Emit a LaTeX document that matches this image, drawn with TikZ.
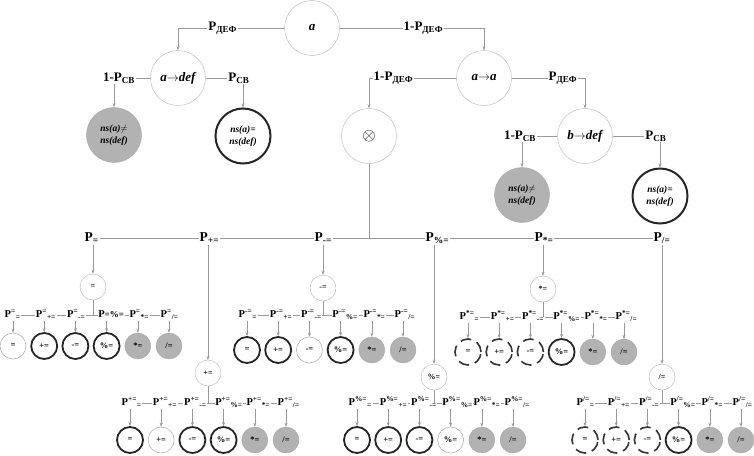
\documentclass[tikz,border=0pt]{standalone}
\usepackage{fontspec}
\setmainfont{Liberation Serif}
\usetikzlibrary{arrows.meta}

\begin{document}
\begin{tikzpicture}[
    x=1pt, y=-1pt,
    ln/.style={draw=gray!80, line width=0.6pt},
    ar/.style={ln, -{Stealth[length=4pt, width=3pt]}},
    big/.style={draw=gray!60, circle, minimum size=55pt, inner sep=0, align=center, font=\fontsize{13}{13}\selectfont\bfseries\itshape},
    bigyes/.style={big, draw=black!85, line width=2pt, font=\fontsize{9.5}{11.5}\selectfont\bfseries\itshape},
    bigno/.style={big, draw=gray!70, fill=gray!60, font=\fontsize{9.5}{11.5}\selectfont\bfseries\itshape},
    mid/.style={draw=gray!60, circle, minimum size=26pt, inner sep=0, font=\fontsize{8}{8}\selectfont\bfseries},
    lf/.style={circle, minimum size=26pt, inner sep=0, font=\fontsize{8.5}{8.5}\selectfont\bfseries},
    lthin/.style={lf, draw=gray!60, line width=0.6pt},
    lthick/.style={lf, draw=black!85, line width=1.8pt},
    lgrey/.style={lf, draw=gray!70, fill=gray!60},
    ldash/.style={lf, draw=black!80, line width=1.6pt, dash pattern=on 11pt off 6pt},
    tlab/.style={font=\fontsize{13}{13}\selectfont\bfseries, inner sep=1pt},
    plab/.style={font=\fontsize{13.5}{13.5}\selectfont\bfseries, inner sep=0.5pt, text height=9pt, text depth=3pt, anchor=west},
    rlab/.style={font=\fontsize{10.5}{10.5}\selectfont\bfseries, inner sep=0.5pt, text height=7.5pt, text depth=2.5pt, anchor=west}
]
\useasboundingbox (0,0) rectangle (754,455);

% upper tree
\node[big] (a) at (312,28) {a};
\node[big] (adef) at (178,78) {a$\rightarrow$def};
\node[big] (aa) at (484,78) {a$\rightarrow$a};
\node[big, font=\fontsize{16}{16}\selectfont] (ot) at (369,136) {$\otimes$};
\node[big] (bdef) at (585,136) {b$\rightarrow$def};
\node[bigno] (no1) at (114,135) {ns(a)$\neq$\\ns(def)};
\node[bigyes] (yes1) at (243,136) {ns(a)=\\ns(def)};
\node[bigno] (no2) at (522,195) {ns(a)$\neq$\\ns(def)};
\node[bigyes] (yes2) at (660,196) {ns(a)=\\ns(def)};

\draw[ar] (a) -| node[tlab, pos=0.29, fill=white] (ld1) {P\textsubscript{ДЕФ}} (adef);
\draw[ar] (a) -| node[tlab, pos=0.29, fill=white] (lnd1) {1-P\textsubscript{ДЕФ}} (aa);
\draw[ar] (aa) -| node[tlab, pos=0.36, fill=white] (lnd2) {1-P\textsubscript{ДЕФ}} (ot);
\draw[ar] (aa) -| node[tlab, pos=0.35, fill=white] (ld2) {P\textsubscript{ДЕФ}} (bdef);

\node[tlab] (lnc1) at (119,78) {1-P\textsubscript{СВ}};
\node[tlab] (lc1) at (239,78) {P\textsubscript{СВ}};
\node[tlab] (lnc2) at (520,136) {1-P\textsubscript{СВ}};
\node[tlab] (lc2) at (656,136) {P\textsubscript{СВ}};
\draw[ln] (adef) -- (lnc1);
\draw[ln] (adef) -- (lc1);
\draw[ln] (bdef) -- (lnc2);
\draw[ln] (bdef) -- (lc2);
\draw[ar] (lnc1.south -| no1) -- (no1);
\draw[ar] (lc1.south -| yes1) -- (yes1);
\draw[ar] (lnc2.south -| no2) -- (no2);
\draw[ar] (lc2.south -| yes2) -- (yes2);

% operator level
\node[plab] (p1) at (84,238) {P\textsubscript{=}};
\node[plab] (p2) at (199,238) {P\textsubscript{+=}};
\node[plab] (p3) at (314,238) {P\textsubscript{-=}};
\node[plab] (p4) at (425,238) {P\textsubscript{\%=}};
\node[plab] (p5) at (534,238) {P\textsubscript{*=}};
\node[plab] (p6) at (653,238) {P\textsubscript{/=}};
\foreach \i/\j in {1/2,2/3,3/4,4/5,5/6}
  \draw[ln] (p\i) -- (p\j);
\draw[ln] (ot) -- (ot |- p3.center);

\node[mid] (m1) at (93,287) {=};
\node[mid] (m2) at (208,373) {+=};
\node[mid] (m3) at (323,288) {-=};
\node[mid] (m4) at (434,377) {\%=};
\node[mid] (m5) at (543,289) {*=};
\node[mid] (m6) at (662,377) {/=};
\foreach \i in {1,...,6}
  \draw[ar] (p\i.south -| m\i) -- (m\i);

% leaf rows
\foreach \i/\sb/\st in {1/=/lthin, 2/+=/lthick, 3/-=/lthick, 4/\%=/lthick, 5/*=/lgrey, 6/{/=}/lgrey} {
  \node[rlab] (ra\i) at ({13+(\i-1)*31.2-9},315)
    {\ifnum\i=4 P{\fontsize{9}{9}\selectfont=\%=}\else P\textsuperscript{=}\textsubscript{\sb}\fi};
  \node[\st] (fa\i) at ({13+(\i-1)*31.2},346) {\sb};
  \draw[ar] (ra\i.south -| fa\i) -- (fa\i);
}
\foreach \i/\sb/\st in {1/=/lthick, 2/+=/lthick, 3/-=/lthin, 4/\%=/lthick, 5/*=/lgrey, 6/{/=}/lgrey} {
  \node[rlab] (rb\i) at ({247+(\i-1)*31.2-9},315) {P\textsuperscript{-=}\textsubscript{\sb}};
  \node[\st] (fb\i) at ({247+(\i-1)*31.2},350) {\sb};
  \draw[ar] (rb\i.south -| fb\i) -- (fb\i);
}
\foreach \i/\sb/\st in {1/=/ldash, 2/+=/ldash, 3/-=/ldash, 4/\%=/lthick, 5/*=/lgrey, 6/{/=}/lgrey} {
  \node[rlab] (rc\i) at ({468+(\i-1)*31.2-9},317) {P\textsuperscript{*=}\textsubscript{\sb}};
  \node[\st] (fc\i) at ({468+(\i-1)*31.2},352) {\sb};
  \draw[ar] (rc\i.south -| fc\i) -- (fc\i);
}
\foreach \i/\sb/\st in {1/=/lthick, 2/+=/lthin, 3/-=/lthick, 4/\%=/lthick, 5/*=/lgrey, 6/{/=}/lgrey} {
  \node[rlab] (rd\i) at ({130+(\i-1)*31.2-9},403) {P\textsuperscript{+=}\textsubscript{\sb}};
  \node[\st] (fd\i) at ({130+(\i-1)*31.2},440) {\sb};
  \draw[ar] (rd\i.south -| fd\i) -- (fd\i);
}
\foreach \i/\sb/\st in {1/=/lthick, 2/+=/lthick, 3/-=/lthick, 4/\%=/lthin, 5/*=/lgrey, 6/{/=}/lgrey} {
  \node[rlab] (re\i) at ({357+(\i-1)*31.2-9},403) {P\textsuperscript{\%=}\textsubscript{\sb}};
  \node[\st] (fe\i) at ({357+(\i-1)*31.2},440) {\sb};
  \draw[ar] (re\i.south -| fe\i) -- (fe\i);
}
\foreach \i/\sb/\st in {1/=/ldash, 2/+=/ldash, 3/-=/ldash, 4/\%=/lthick, 5/*=/lgrey, 6/{/=}/lgrey} {
  \node[rlab] (rf\i) at ({585+(\i-1)*31.2-9},403) {P\textsuperscript{/=}\textsubscript{\sb}};
  \node[\st] (ff\i) at ({585+(\i-1)*31.2},440) {\sb};
  \draw[ar] (rf\i.south -| ff\i) -- (ff\i);
}
\foreach \r in {a,b,c,d,e,f}
  \foreach \i/\j in {1/2,2/3,3/4,4/5,5/6}
    \draw[ln] (r\r\i) -- (r\r\j);
\foreach \m/\r in {1/a,3/b,5/c,2/d,4/e,6/f}
  \draw[ln] (m\m) -- (m\m |- r\r1.center);
\end{tikzpicture}
\end{document}
